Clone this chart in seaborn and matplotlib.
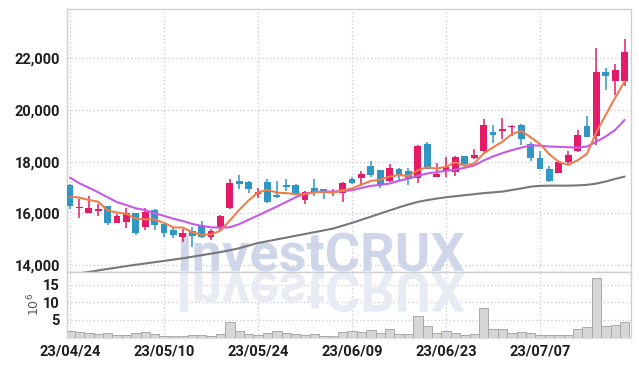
import numpy as np
import pandas as pd
import matplotlib
matplotlib.use("Agg")
import matplotlib.pyplot as plt
import seaborn as sns
from matplotlib.textpath import TextPath
from matplotlib.patches import PathPatch
from matplotlib.font_manager import FontProperties
from matplotlib.transforms import Affine2D

# ---------------- data ----------------
dates = ["23/04/24", "23/04/25", "23/04/26", "23/04/27", "23/04/28", "23/05/02", "23/05/03", "23/05/04",
         "23/05/08", "23/05/09", "23/05/10", "23/05/11", "23/05/12", "23/05/15", "23/05/16", "23/05/17",
         "23/05/18", "23/05/19", "23/05/22", "23/05/23", "23/05/24", "23/05/25", "23/05/26", "23/05/30",
         "23/05/31", "23/06/01", "23/06/02", "23/06/05", "23/06/07", "23/06/08", "23/06/09", "23/06/12",
         "23/06/13", "23/06/14", "23/06/15", "23/06/16", "23/06/19", "23/06/20", "23/06/21", "23/06/22",
         "23/06/23", "23/06/26", "23/06/27", "23/06/28", "23/06/29", "23/06/30", "23/07/03", "23/07/04",
         "23/07/05", "23/07/06", "23/07/07", "23/07/10", "23/07/11", "23/07/12", "23/07/13", "23/07/14",
         "23/07/17", "23/07/18", "23/07/19", "23/07/20"]

opens = [17100, 16200, 16020, 16100, 16280, 15640, 15680, 16000, 15480, 16130,
         15590, 15350, 15100, 15330, 15550, 15070, 15420, 16200, 17250, 17210,
         16740, 17210, 16710, 17100, 17100, 16520, 16970, 16930, 16770, 16800,
         17330, 17380, 17830, 17660, 17250, 17720, 17650, 17360, 18680, 17420,
         17650, 17610, 18220, 18150, 18400, 19150, 19200, 19320, 19420, 18680,
         18130, 17710, 17560, 18000, 18390, 19380, 18970, 21480, 21130, 21100]
highs = [17150, 16560, 16670, 16360, 16300, 15980, 16190, 16020, 16200, 16160,
         15600, 15420, 15400, 15480, 15720, 15390, 15920, 17320, 17480, 17230,
         16970, 17320, 17230, 17320, 17140, 16860, 17320, 16940, 16930, 17200,
         17400, 17650, 18040, 17680, 17900, 17740, 17750, 18650, 18770, 17940,
         18170, 18200, 18230, 18500, 19640, 19420, 19680, 19410, 19440, 18760,
         18390, 17830, 17990, 18390, 19220, 19760, 22390, 21620, 21780, 22740]
lows = [16150, 15820, 16000, 15880, 15560, 15620, 15450, 15150, 15350, 15340,
        15100, 15060, 14880, 14700, 15060, 14950, 15360, 16150, 16930, 16800,
        16580, 16400, 16610, 16870, 16700, 16350, 16660, 16540, 16660, 16420,
        17150, 17050, 17420, 16970, 17220, 17270, 17100, 17180, 17700, 17410,
        17400, 17440, 17860, 18090, 18300, 18710, 18870, 18980, 18650, 18030,
        17700, 17200, 17540, 17870, 18380, 18940, 18650, 20770, 20580, 20920]
closes = [16300, 16260, 16190, 16150, 15640, 15900, 16020, 15250, 16060, 15550,
          15250, 15160, 15230, 15120, 15080, 15330, 15900, 17180, 17150, 16930,
          16840, 16450, 16640, 17030, 16740, 16840, 16780, 16780, 16870, 17180,
          17180, 17520, 17480, 17150, 17770, 17480, 17340, 18600, 17720, 17530,
          17800, 18190, 17900, 18250, 19400, 19020, 19260, 19390, 18880, 18140,
          17720, 17260, 17970, 18260, 19040, 18950, 21480, 21320, 21550, 22220]

ma5 = [16645, 16607, 16515, 16450, 16110, 16030, 15980, 15790, 15770, 15760,
       15630, 15450, 15450, 15260, 15170, 15180, 15330, 15720, 16130, 16500,
       16800, 16910, 16800, 16780, 16740, 16740, 16810, 16830, 16800, 16890,
       16960, 17110, 17250, 17300, 17420, 17480, 17440, 17670, 17780, 17730,
       17800, 17970, 17830, 17930, 18310, 18550, 18770, 19060, 19190, 18940,
       18680, 18280, 17990, 17870, 18050, 18300, 19140, 19810, 20470, 21100]
ma20 = [17380, 17160, 16990, 16810, 16620, 16430, 16320, 16190, 16130, 16000,
        15900, 15790, 15700, 15590, 15510, 15460, 15445, 15460, 15580, 15750,
        15920, 16090, 16260, 16440, 16620, 16760, 16830, 16840, 16840, 16860,
        16890, 16980, 17060, 17100, 17150, 17260, 17340, 17450, 17540, 17590,
        17640, 17690, 17760, 17850, 18040, 18200, 18330, 18440, 18540, 18630,
        18620, 18580, 18570, 18555, 18540, 18580, 18775, 18970, 19225, 19610]
ma60 = [13630, 13680, 13730, 13790, 13850, 13900, 13960, 14010, 14060, 14110,
        14160, 14210, 14260, 14320, 14380, 14440, 14500, 14570, 14650, 14750,
        14850, 14920, 14990, 15060, 15130, 15200, 15270, 15340, 15410, 15520,
        15630, 15750, 15870, 15990, 16110, 16230, 16340, 16440, 16510, 16570,
        16620, 16660, 16700, 16740, 16780, 16810, 16840, 16900, 16960, 17030,
        17060, 17070, 17070, 17070, 17080, 17100, 17150, 17230, 17330, 17420]

volume_m = [1.9, 1.6, 1.2, 0.9, 1.3, 0.6, 0.6, 1.3, 1.6, 1.1,
            0.4, 0.4, 0.4, 0.7, 0.7, 0.4, 1.0, 4.3, 1.9, 1.0,
            0.6, 1.2, 1.9, 1.3, 0.9, 0.6, 1.0, 0.4, 0.4, 1.5,
            1.9, 1.6, 2.1, 1.3, 2.3, 1.0, 1.0, 6.0, 3.3, 1.3,
            1.9, 1.3, 0.6, 1.0, 8.3, 2.4, 2.3, 1.3, 1.6, 1.3,
            0.6, 0.6, 0.6, 0.6, 2.4, 3.0, 16.9, 3.3, 3.6, 4.4]

price_ticks = [14000, 16000, 18000, 20000, 22000]
vol_ticks = [5, 10, 15]
date_tick_idx = [0, 10, 20, 30, 40, 50]

# ---------------- style ----------------
UP = "#e41b68"
DOWN = "#2f96c6"
C_MA5 = "#ef7e4b"
C_MA20 = "#c65ae8"
C_MA60 = "#787878"
GRID = "#c3c8dc"
FRAME = "#cfcfcf"

sns.set_theme(style="white")
plt.rcParams['font.family'] = ['Liberation Sans Narrow', 'Roboto', 'DejaVu Sans']

df = pd.DataFrame({"idx": np.arange(len(dates)), "date": dates, "open": opens, "high": highs,
                   "low": lows, "close": closes, "ma5": ma5, "ma20": ma20, "ma60": ma60,
                   "vol": volume_m})

W, H = 639, 366
fig = plt.figure(figsize=(W / 100, H / 100), dpi=100)
fig.patch.set_facecolor("white")
ax = fig.add_axes([67 / W, 1 - 272 / H, 564 / W, 263 / H])
axv = fig.add_axes([67 / W, 1 - 337.5 / H, 564 / W, 65.5 / H], sharex=ax)

# ---- candles ----
up = df["close"] >= df["open"]
colors = np.where(up, UP, DOWN)
body_low = np.minimum(df["open"], df["close"])
body_h = np.maximum(np.abs(df["close"] - df["open"]), 40)
ax.vlines(df["idx"], df["low"], df["high"], colors=colors, linewidth=1.1, zorder=3)
ax.bar(df["idx"], body_h, bottom=body_low, width=0.72, color=colors, linewidth=0, zorder=4)

# ---- moving averages ----
sns.lineplot(data=df, x="idx", y="ma60", ax=ax, color=C_MA60, linewidth=1.5, zorder=5)
sns.lineplot(data=df, x="idx", y="ma20", ax=ax, color=C_MA20, linewidth=1.5, zorder=5)
sns.lineplot(data=df, x="idx", y="ma5", ax=ax, color=C_MA5, linewidth=1.5, zorder=6)

# ---- volume ----
sns.barplot(data=df, x="idx", y="vol", ax=axv, native_scale=True, color="#d6d6d6",
            edgecolor="#a9a9a9", linewidth=0.7, width=1.0, saturation=1, zorder=3)

# ---- axes formatting ----
ax.set_ylim(13730, 23900)
ax.set_xlim(-0.32, 59.68)
axv.set_ylim(0, 18.7)
ax.set_yticks(price_ticks)
ax.set_yticklabels([f"{v:,}" for v in price_ticks])
axv.set_yticks(vol_ticks)
axv.set_yticklabels([str(v) for v in vol_ticks])
axv.set_xticks(date_tick_idx)
axv.set_xticklabels([dates[i] for i in date_tick_idx])
ax.tick_params(axis="x", labelbottom=False, length=0)
for a in (ax, axv):
    a.set_xlabel("")
    a.set_ylabel("")
    a.tick_params(axis="both", length=0, labelsize=10.5, colors="#1e1e1e", pad=5)
    a.grid(True, which="major", color=GRID, linestyle=(0, (1, 2)), linewidth=0.9, zorder=0)
    a.set_axisbelow(True)
    for s in a.spines.values():
        s.set_color(FRAME)
        s.set_linewidth(1.0)
    for lab in a.get_xticklabels() + a.get_yticklabels():
        lab.set_fontweight("bold")
ax.set_xticks(date_tick_idx)
axv.tick_params(axis="x", pad=5)
axv.spines["bottom"].set_color("#e2e2e2")
axv.set_ylabel(r"$10^6$", fontsize=9, color="#555555", labelpad=1,
               fontfamily="DejaVu Sans")

# ---- watermark with reflection ----
wm_fp = FontProperties(family=["Roboto", "DejaVu Sans"], weight="bold", size=39)
ax.text(176 / W, (H - 271) / H, "InvestCRUX", transform=fig.transFigure, fontproperties=wm_fp,
        color="#d0d6ea", ha="left", va="baseline", zorder=1)
tp = TextPath((0, 0), "InvestCRUX", size=39 * 100 / 72, prop=wm_fp)
refl = PathPatch(tp, transform=Affine2D().scale(1, -1).translate(176, H - 273),
                 facecolor="#e9ebf4", edgecolor="none", zorder=1)
axv.add_artist(refl)
refl.set_clip_on(False)

fig.savefig("out.png", dpi=100, facecolor="white")
